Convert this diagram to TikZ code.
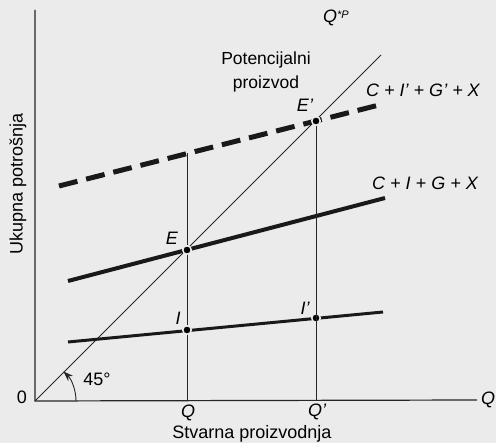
\documentclass[tikz,border=0pt]{standalone}
\usepackage{fontspec}
\setmainfont{Liberation Sans}
\usetikzlibrary{arrows.meta}
\begin{document}
\begin{tikzpicture}[x=1pt,y=-1pt,
  lbl/.style={font=\fontsize{18}{21}\selectfont, inner sep=0pt},
  ilbl/.style={lbl, font=\fontsize{18}{21}\selectfont\itshape},
  axis/.style={line width=1.2pt, black!85},
  thin/.style={line width=0.9pt, black!85},
  thick/.style={line width=4pt, black!90},
  mid/.style={line width=3pt, black!90},
  dashline/.style={line width=5pt, black!90, dash pattern=on 19pt off 9pt},
  dot/.style={circle, fill=black, draw=black!8, line width=1.5pt, minimum size=8.5pt, inner sep=0pt}]
\fill[black!8] (0,0) rectangle (496,443);
\useasboundingbox (0,0) rectangle (496,443);
% coordinates
\coordinate (O) at (35,401);
\coordinate (Ytop) at (35,10);
\coordinate (Xend) at (477,400);
\coordinate (Dtop) at (381,55);
\coordinate (Qb) at (187,401);
\coordinate (Qpb) at (316,400);
\coordinate (Qt) at (187,153.5);
\coordinate (A1) at (68,281);
\coordinate (A2) at (385,198);
\coordinate (B1) at (68,342);
\coordinate (B2) at (383,312);
\coordinate (D1) at (59,186);
\coordinate (D2) at (383,104);
% axes
\draw[axis] (Ytop) -- (O) -- (Xend);
% 45 degree line
\draw[thin] (O) -- (Dtop);
% verticals
\draw[thin] (Qt) -- (Qb);
% curves
\draw[dashline] (D1) -- (D2);
\draw[thick] (A1) -- (A2);
\draw[mid] (B1) -- (B2);
% points
\node[dot] (E) at (187,250) {};
\node[dot] (Ep) at (316,121) {};
\node[dot] (I) at (187,330) {};
\node[dot] (Ip) at (316,318) {};
\draw[thin] (Ep) -- (Qpb);
% angle arc
\draw[thin, -{Stealth[length=10pt,width=7pt]}] (O) ++(41,0) arc[start angle=0, end angle=46, radius=41pt];
% labels
\node[lbl] (zero) at (22,397) {0};
\node[lbl] (n45) at (97,379) {45°};
\node[ilbl] (lQ) at (188,413) {Q};
\node[ilbl] (lQp) at (317,412) {Q'};
\node[ilbl, anchor=west] (lQx) at (481,400) {Q};
\node[lbl] (xlab) at (252,434) {Stvarna proizvodnja};
\node[lbl, rotate=90] (ylab) at (18,184) {Ukupna potrošnja};
\node[lbl, align=center, font=\fontsize{17.5}{21}\selectfont] (pot) at (266,72) {Potencijalni\\[3pt]proizvod};
\node[ilbl] (qp) at (336,18) {Q{\fontsize{11}{12}\selectfont\raisebox{4pt}{*P}}};
\node[ilbl] (lE) at (172,238) {E};
\node[ilbl] (lEp) at (305,105) {E'};
\node[ilbl] (lI) at (178,318) {I};
\node[ilbl] (lIp) at (305,308) {I'};
\node[ilbl] (l1) at (423,90) {C + I' + G' + X};
\node[ilbl] (l2) at (425,183) {C + I + G + X};
\end{tikzpicture}
\end{document}
